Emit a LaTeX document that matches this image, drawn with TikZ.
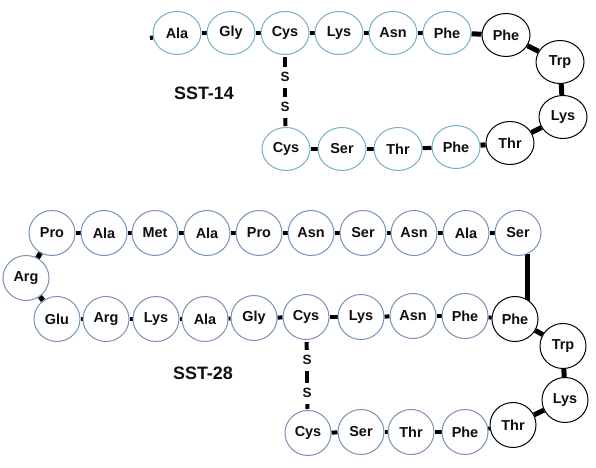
\documentclass[tikz,border=0pt]{standalone}
\usepackage{fontspec}
\setmainfont{Liberation Sans}
\usetikzlibrary{positioning,shapes.geometric,backgrounds}
\definecolor{ink}{RGB}{15,15,15}
\definecolor{rimteal}{RGB}{118,176,198}
\definecolor{rimblue}{RGB}{118,146,184}
\tikzset{
  res/.style={ellipse, draw=rimteal, fill=white, minimum width=48bp, minimum height=43bp,
    inner sep=0pt, font=\bfseries\fontsize{14.5}{16}\selectfont, text=ink, line width=1bp},
  kres/.style={res, draw=black},
  bres/.style={res, draw=rimblue, minimum width=46bp, minimum height=45bp},
  kbres/.style={bres, draw=black},
  sulf/.style={inner sep=0pt, minimum height=18bp, font=\bfseries\fontsize{13.5}{15}\selectfont, text=ink},
  tag/.style={font=\bfseries\fontsize{18}{20}\selectfont, text=ink},
  link/.style={line width=4bp, draw=black},
  tlink/.style={line width=5bp, draw=black},
  sslink/.style={line width=4bp, draw=black, shorten <=2bp, shorten >=1bp},
}
\begin{document}
\begin{tikzpicture}[x=1bp,y=-1bp]
  \useasboundingbox (0,0) rectangle (596,468);
  % SST-14
  \coordinate (nterm) at (150,38);
  \node[res] (n1) at (177,33) {Ala};
  \node[res] (n2) at (231,33) {Gly};
  \node[res] (n3) at (285,33) {Cys};
  \node[res] (n4) at (339,33) {Lys};
  \node[res] (n5) at (393,33) {Asn};
  \node[res] (n6) at (447,33) {Phe};
  \node[kres] (n7) at (506,35) {Phe};
  \node[kres] (n8) at (560,62) {Trp};
  \node[kres] (n9) at (563,117) {Lys};
  \node[kres] (n10) at (510,143) {Thr};
  \node[res] (n11) at (456,147) {Phe};
  \node[res] (n12) at (398,149) {Thr};
  \node[res] (n13) at (342,149) {Ser};
  \node[res] (n14) at (286,149) {Cys};
  \node[sulf] (ns1) at (285,77) {S};
  \node[sulf] (ns2) at (285,107) {S};
  \node[tag] (lab14) at (204,93) {SST-14};
  % SST-28
  \node[bres] (q1) at (518,233) {Ser};
  \node[bres] (q2) at (466,233) {Ala};
  \node[bres] (q3) at (414,233) {Asn};
  \node[bres] (q4) at (363,233) {Ser};
  \node[bres] (q5) at (311,233) {Asn};
  \node[bres] (q6) at (259,233) {Pro};
  \node[bres] (q7) at (207,233) {Ala};
  \node[bres] (q8) at (155,233) {Met};
  \node[bres] (q9) at (104,233) {Ala};
  \node[bres] (q10) at (52,233) {Pro};
  \node[bres] (q11) at (26,278) {Arg};
  \node[bres] (q12) at (57,319) {Glu};
  \node[bres] (q13) at (106,319) {Arg};
  \node[bres] (q14) at (156,319) {Lys};
  \node[bres] (q15) at (205,319) {Ala};
  \node[bres] (q16) at (254,318) {Gly};
  \node[bres] (q17) at (306,317) {Cys};
  \node[bres] (q18) at (361,317) {Lys};
  \node[bres] (q19) at (413,316) {Asn};
  \node[bres] (q20) at (465,316) {Phe};
  \node[kbres] (q21) at (515,319) {Phe};
  \node[kbres] (q22) at (563,346) {Trp};
  \node[kbres] (q23) at (565,400) {Lys};
  \node[kbres] (q24) at (513,425) {Thr};
  \node[bres] (q25) at (465,432) {Phe};
  \node[bres] (q26) at (411,432) {Thr};
  \node[bres] (q27) at (361,432) {Ser};
  \node[bres] (q28) at (308,433) {Cys};
  \node[sulf] (qs1) at (307,360) {S};
  \node[sulf] (qs2) at (307,393) {S};
  \node[tag] (lab28) at (203,373) {SST-28};
  \begin{scope}[on background layer]
    \draw[link] (nterm)--(n1); \draw[link] (n1)--(n2); \draw[link] (n2)--(n3);
    \draw[link] (n3)--(n4); \draw[link] (n4)--(n5); \draw[link] (n5)--(n6);
    \draw[tlink] (n6)--(n7); \draw[tlink] (n7)--(n8); \draw[tlink] (n8)--(n9);
    \draw[tlink] (n9)--(n10); \draw[tlink] (n10)--(n11); \draw[link] (n11)--(n12);
    \draw[link] (n12)--(n13); \draw[link] (n13)--(n14);
    \draw[sslink] (n3)--(ns1); \draw[sslink] (ns1)--(ns2); \draw[sslink] (ns2)--(n14);
    \draw[link] (q1)--(q2); \draw[link] (q2)--(q3); \draw[link] (q3)--(q4);
    \draw[link] (q4)--(q5); \draw[link] (q5)--(q6); \draw[link] (q6)--(q7);
    \draw[link] (q7)--(q8); \draw[link] (q8)--(q9); \draw[link] (q9)--(q10);
    \draw[tlink] (q10)--(q11); \draw[tlink] (q11)--(q12);
    \draw[link] (q12)--(q13); \draw[link] (q13)--(q14); \draw[link] (q14)--(q15);
    \draw[link] (q15)--(q16); \draw[link] (q16)--(q17); \draw[link] (q17)--(q18);
    \draw[link] (q18)--(q19); \draw[link] (q19)--(q20); \draw[link] (q20)--(q21);
    \draw[tlink] (q21)--(q22); \draw[tlink] (q22)--(q23); \draw[tlink] (q23)--(q24);
    \draw[link] (q24)--(q25); \draw[link] (q25)--(q26); \draw[link] (q26)--(q27);
    \draw[link] (q27)--(q28);
    \draw[tlink] (q1.-65) -- (q1.-65 |- q21.center);
    \draw[sslink] (q17)--(qs1); \draw[sslink] (qs1)--(qs2); \draw[sslink] (qs2)--(q28);
  \end{scope}
\end{tikzpicture}
\end{document}
